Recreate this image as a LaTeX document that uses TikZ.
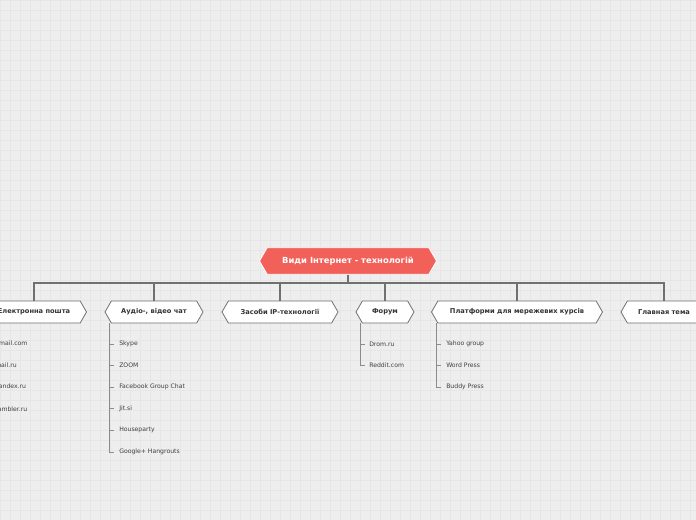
\documentclass[tikz,border=0pt]{standalone}
\usepackage{fontspec}
\setmainfont{DejaVu Sans}
\usetikzlibrary{shapes.symbols}
\definecolor{bg}{HTML}{EEEEEE}
\definecolor{gridc}{HTML}{E6E6E6}
\definecolor{rootc}{HTML}{F2605A}
\definecolor{linec}{HTML}{707070}
\tikzstyle{hexa} = [signal, signal to=east and west, signal pointer angle=120, draw=linec, fill=white, line width=0.6pt, minimum height=16.5pt, inner xsep=5pt, font=\bfseries\fontsize{5}{6}\selectfont, text=black!80]
\tikzstyle{root} = [hexa, fill=rootc, draw=white, minimum height=20pt, inner xsep=7pt, font=\bfseries\fontsize{6.3}{7}\selectfont, text=white]
\tikzstyle{leaf} = [anchor=west, inner sep=0, font=\fontsize{4.6}{5}\selectfont, text=black!75]
\tikzstyle{bus} = [draw=linec, line width=0.9pt]
\tikzstyle{stem} = [draw=black!45, line width=0.6pt]
\begin{document}
\begin{tikzpicture}[x=0.75pt, y=-0.75pt]
\useasboundingbox (0,0) rectangle (696,520);
\clip (0,0) rectangle (696,520);
\fill[bg] (0,0) rectangle (696,520);
\draw[gridc, line width=0.4pt, step=7.5pt] (0,0) grid (696,520);

% Nodes: root and main branches
\node[root, minimum width=177*0.75pt] (main) at (348,261) {Види Інтернет - технологій};
\node[hexa, minimum width=105*0.75pt] (mail) at (34,312) {Електронна пошта};
\node[hexa, minimum width=98*0.75pt] (chat) at (154,312) {Аудіо-, відео чат};
\node[hexa, minimum width=116*0.75pt] (ip) at (280,312) {Засоби IP-технології};
\node[hexa, minimum width=58*0.75pt] (forum) at (385,312) {Форум};
\node[hexa, minimum width=171*0.75pt] (plat) at (517,312) {Платформи для мережевих курсів};
\node[hexa, minimum width=86*0.75pt] (gl) at (664,312) {Главная тема};
\coordinate (busc) at (348,283);

% Connections: bus
\draw[bus] (main.south) -- (busc);
\draw[bus] (mail.north) |- (busc) -| (gl.north);
\foreach \n in {chat,ip,forum,plat} \draw[bus] (\n.north) -- (\n.north |- busc);

% Leaves
\foreach \t [count=\i] in {gmail.com,mail.ru,yandex.ru,rambler.ru}
  \node[leaf] (m\i) at (-5,344+21.6*\i-21.6) {\t};
\foreach \t [count=\i, evaluate=\i as \y using 344+21.6*\i-21.6] in {Skype,ZOOM,Facebook Group Chat,Jit.si,Houseparty,Google+ Hangrouts}
{ \node[leaf] (c\i) at (119,\y) {\t};
  \draw[stem] (109,\y) -- (114,\y); }
\draw[stem] (109,323) -- (109,452);
\foreach \t [count=\i, evaluate=\i as \y using 344+21.6*\i-21.6] in {Drom.ru,Reddit.com}
{ \node[leaf] (f\i) at (369,\y) {\t};
  \draw[stem] (360,\y) -- (365,\y); }
\draw[stem] (360,323) -- (360,366);
\foreach \t [count=\i, evaluate=\i as \y using 344+21.6*\i-21.6] in {Yahoo group,Word Press,Buddy Press}
{ \node[leaf] (p\i) at (446,\y) {\t};
  \draw[stem] (436,\y) -- (441,\y); }
\draw[stem] (436,323) -- (436,387);
\end{tikzpicture}
\end{document}
